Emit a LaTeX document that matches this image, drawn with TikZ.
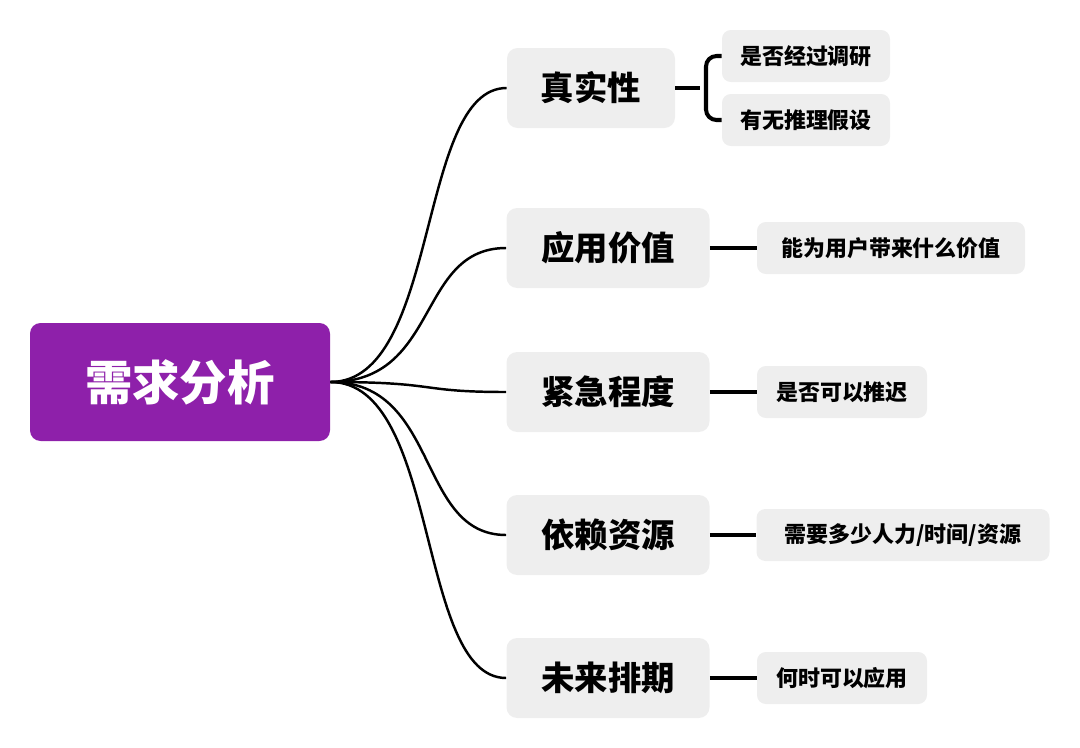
\documentclass[tikz,border=0pt]{standalone}
\usepackage{fontspec}
\setmainfont{Noto Sans CJK SC}
\usetikzlibrary{calc}
\definecolor{rootpurple}{RGB}{142,32,170}
\definecolor{boxgray}{RGB}{238,238,238}
\tikzset{
  rootbox/.style={rectangle, rounded corners=6pt, fill=rootpurple, text=white, minimum width=300*0.02cm, minimum height=118*0.02cm, font=\fontsize{27}{30}\selectfont\bfseries},
  topicbox/.style={rectangle, rounded corners=6pt, fill=boxgray, minimum height=80*0.02cm, font=\fontsize{19}{22}\selectfont\bfseries},
  leafbox/.style={rectangle, rounded corners=5pt, fill=boxgray, minimum height=52*0.02cm, font=\fontsize{12.5}{15}\selectfont\bfseries},
  branch/.style={line width=1.4pt},
  twig/.style={line width=2.3pt}
}
\begin{document}
\begin{tikzpicture}[x=0.02cm,y=-0.02cm]
\useasboundingbox (0,0) rectangle (1080,748);
% root
\node[rootbox] (root) at (180,382) {需求分析};
% topics
\node[topicbox, minimum width=168*0.02cm] (truth) at (591,88) {真实性};
\node[topicbox, minimum width=203*0.02cm] (value) at (608,248) {应用价值};
\node[topicbox, minimum width=203*0.02cm] (urgent) at (608,392) {紧急程度};
\node[topicbox, minimum width=203*0.02cm] (depend) at (608,535) {依赖资源};
\node[topicbox, minimum width=203*0.02cm] (plan) at (608,678) {未来排期};
% leaves
\node[leafbox, minimum width=168*0.02cm] (survey) at (806,56) {是否经过调研};
\node[leafbox, minimum width=168*0.02cm] (assume) at (806,120) {有无推理假设};
\node[leafbox, minimum width=268*0.02cm] (bring) at (891,248) {能为用户带来什么价值};
\node[leafbox, minimum width=170*0.02cm] (delay) at (842,392) {是否可以推迟};
\node[leafbox, minimum width=293*0.02cm] (cost) at (903,535) {需要多少人力/时间/资源};
\node[leafbox, minimum width=170*0.02cm] (when) at (842,678) {何时可以应用};
% branches
\foreach \t in {truth,value,urgent,depend,plan}
  \draw[branch] (root.east) .. controls ($(root.east)+(110,0)$) and ($(\t.west)+(-90,0)$) .. (\t.west);
% twigs
\coordinate (fork) at (700,88);
\draw[twig] (truth.east) -- (fork);
\draw[twig, rounded corners=6pt] (survey.west) -- (706,56) -- (706,120) -- (assume.west);
\draw[twig] (value.east) -- (bring.west);
\draw[twig] (urgent.east) -- (delay.west);
\draw[twig] (depend.east) -- (cost.west);
\draw[twig] (plan.east) -- (when.west);
\end{tikzpicture}
\end{document}
